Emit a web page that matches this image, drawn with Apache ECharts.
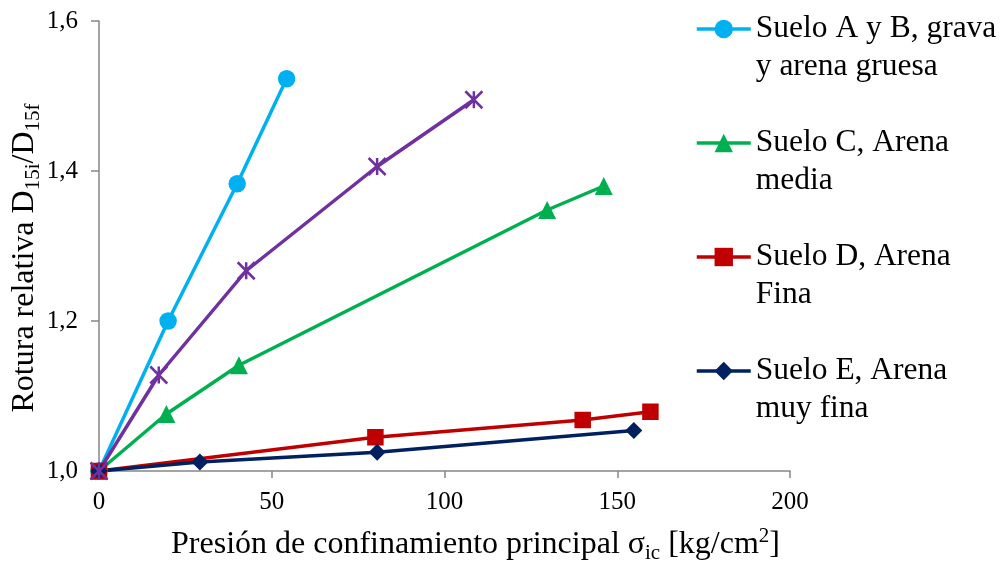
<!DOCTYPE html>
<html>
<head>
<meta charset="utf-8">
<script src="https://cdn.jsdelivr.net/npm/echarts@6/dist/echarts.min.js"></script>
<style>
  html, body { margin: 0; padding: 0; background: #fff; }
  #chart { width: 1004px; height: 562px; }
</style>
</head>
<body>
<div id="chart"></div>
<script>
// Confining pressure (kg/cm2) and relative breakage D15i/D15f for each soil
const pressAB = [0, 20, 40, 54.3];
const breakAB = [1.0, 1.2, 1.383, 1.523];

const pressC = [0, 19.5, 40.5, 129.7, 146.1];
const breakC = [1.0, 1.076, 1.141, 1.348, 1.380];

const pressD = [0, 80, 140, 159.6];
const breakD = [1.0, 1.045, 1.068, 1.079];

const pressE = [0, 29.2, 80.5, 154.8];
const breakE = [1.0, 1.012, 1.025, 1.054];

const pressX = [0, 17.3, 42.6, 80.5, 108.5];
const breakX = [1.0, 1.128, 1.267, 1.406, 1.495];

const xTicks = [0, 50, 100, 150, 200];
const yTicks = [1.0, 1.2, 1.4, 1.6];

const legendNames = [
  'Suelo A y B, grava\ny arena gruesa',
  'Suelo C, Arena\nmedia',
  'Suelo D, Arena\nFina',
  'Suelo E, Arena\nmuy fina'
];

const FONT = '"Liberation Serif", "Times New Roman", serif';
const AXIS_GREY = '#868686';

function pairs(xs, ys) {
  return xs.map((x, i) => [x, ys[i]]);
}

function lineSeries(name, xs, ys, color, symbol, size, extraItem) {
  return {
    name: name,
    type: 'line',
    data: pairs(xs, ys),
    symbol: symbol,
    symbolSize: size,
    showAllSymbol: true,
    lineStyle: { color: color, width: 3.5 },
    itemStyle: Object.assign({ color: color }, extraItem || {}),
    emphasis: { disabled: true }
  };
}

const chart = echarts.init(document.getElementById('chart'), null, { renderer: 'canvas' });

const option = {
  animation: false,
  backgroundColor: '#fff',
  grid: {
    left: 99, right: 214, top: 21, bottom: 91,
    containLabel: false,
    outerBoundsMode: 'none'
  },
  legend: {
    orient: 'vertical',
    left: 695,
    top: -28,
    padding: 0,
    itemGap: 0,
    itemWidth: 54,
    itemHeight: 23,
    data: legendNames,
    selectedMode: false,
    lineStyle: { width: 3.5 },
    // leading blank line keeps the first text line level with the icon
    formatter: name => '\n' + name,
    textStyle: {
      fontFamily: FONT,
      fontSize: 31.5,
      lineHeight: 38,
      color: '#000'
    }
  },
  xAxis: {
    type: 'value',
    min: xTicks[0],
    max: xTicks[xTicks.length - 1],
    interval: xTicks[1] - xTicks[0],
    splitLine: { show: false },
    axisLine: { lineStyle: { color: AXIS_GREY, width: 1.5 } },
    axisTick: { show: true, inside: false, length: 7, lineStyle: { color: AXIS_GREY, width: 1.5 } },
    axisLabel: { fontFamily: FONT, fontSize: 25, color: '#000', margin: 19 },
    name: '{a|Presión de confinamiento principal σ}{s|ic}{a| [kg/cm}{p|2}{a|]}',
    nameLocation: 'middle',
    nameGap: 55,
    nameMoveOverlap: false,
    nameTextStyle: {
      padding: [0, 0, 0, 62],
      rich: {
        a: { fontFamily: FONT, fontSize: 32, lineHeight: 38, color: '#000' },
        s: { fontFamily: FONT, fontSize: 21, lineHeight: 20, verticalAlign: 'bottom', color: '#000' },
        p: { fontFamily: FONT, fontSize: 21, lineHeight: 20, verticalAlign: 'top', color: '#000' }
      }
    }
  },
  yAxis: {
    type: 'value',
    min: yTicks[0],
    max: yTicks[yTicks.length - 1],
    interval: 0.2,
    splitLine: { show: false },
    axisLine: { show: true, lineStyle: { color: AXIS_GREY, width: 1.5 } },
    axisTick: { show: true, inside: false, length: 8, lineStyle: { color: AXIS_GREY, width: 1.5 } },
    axisLabel: {
      fontFamily: FONT, fontSize: 25, color: '#000', margin: 21,
      formatter: v => v.toFixed(1).replace('.', ',')
    },
    name: '{a|Rotura relativa D}{s|15i}{a|/D}{s|15f}',
    nameLocation: 'middle',
    nameGap: 55,
    nameMoveOverlap: false,
    nameTextStyle: {
      padding: [0, 24, 0, 0],
      rich: {
        a: { fontFamily: FONT, fontSize: 32, lineHeight: 38, color: '#000' },
        s: { fontFamily: FONT, fontSize: 21, lineHeight: 20, verticalAlign: 'bottom', color: '#000' }
      }
    }
  },
  series: [
    lineSeries(legendNames[0], pressAB, breakAB, '#00B0F0', 'circle', 17.5),
    lineSeries(legendNames[1], pressC, breakC, '#00B050', 'triangle', 18),
    lineSeries(legendNames[2], pressD, breakD, '#C00000', 'rect', 16.5),
    lineSeries(legendNames[3], pressE, breakE, '#002060', 'diamond', 17),
    lineSeries('Serie 5', pressX, breakX, '#7030A0',
      'path://M0,0L10,10M10,0L0,10M5,0L5,10', 17,
      { borderColor: '#7030A0', borderWidth: 2.5 })
  ]
};

chart.setOption(option);
</script>
</body>
</html>
